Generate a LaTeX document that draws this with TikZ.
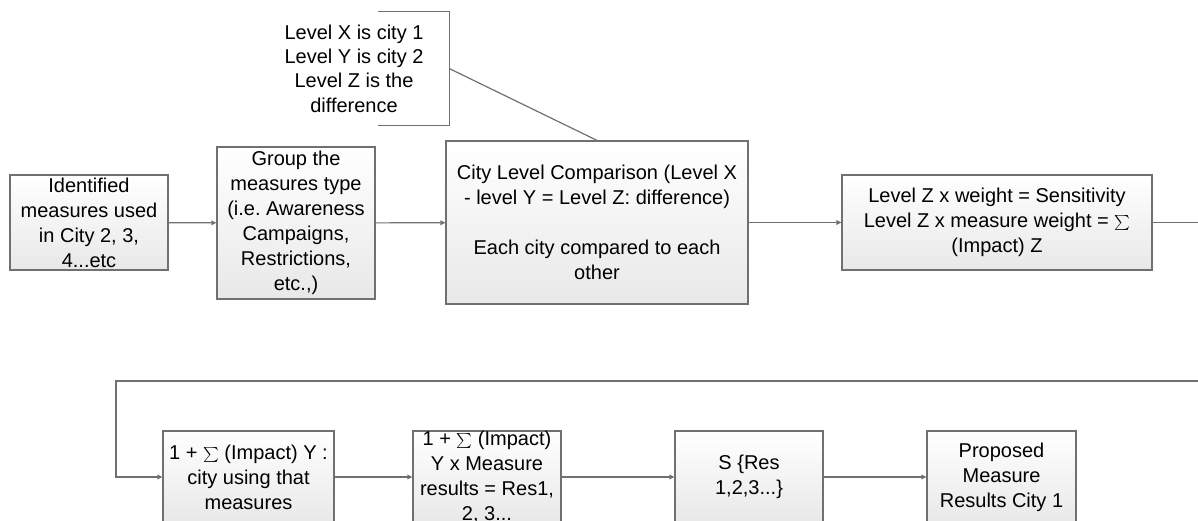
\documentclass[tikz,border=0pt]{standalone}
\usepackage{amsmath}
\usepackage{graphicx}
\usepackage{fontspec}
\setmainfont{Liberation Sans}
\usetikzlibrary{arrows.meta,calc}
\frenchspacing
\definecolor{edgegray}{RGB}{112,112,112}
\definecolor{boxbottom}{RGB}{232,232,232}
\newcommand{\sumsign}{\raisebox{0.5pt}{\scalebox{0.72}{$\textstyle\sum$}}}
\tikzset{
  boxtext/.style={align=center, inner sep=0pt, font=\fontsize{20}{25}\selectfont},
  flowbox/.style={boxtext, draw=edgegray, line width=1.2pt, top color=white, bottom color=boxbottom},
  link/.style={draw=edgegray, line width=1.2pt, -{Triangle[length=5pt,width=4.5pt]}},
  plain/.style={draw=edgegray, line width=1.2pt},
}
\begin{document}
\begin{tikzpicture}[x=1pt,y=-1pt]
\useasboundingbox (0,0) rectangle (1198,520);
\clip (0,0) rectangle (1198,520);

% top row
\node[flowbox, minimum width=158pt, minimum height=95pt] (b1) at (89,222.5)
  {Identified\\measures used\\in City 2, 3,\\4...etc};
\node[flowbox, minimum width=158pt, minimum height=152pt] (b2) at (296,223)
  {Group the\\measures type\\(i.e. Awareness\\Campaigns,\\Restrictions,\\etc.,)};
\node[flowbox, minimum width=302pt, minimum height=163pt] (b3) at (597,222.5)
  {City Level Comparison (Level X\\- level Y = Level Z: difference)\\[25pt]Each city compared to each\\other};
\node[flowbox, minimum width=310pt, minimum height=95pt] (b4) at (997,222.5)
  {Level Z x weight = Sensitivity\\Level Z x measure weight = \sumsign\\(Impact) Z};

% bracket callout
\node[boxtext, font=\fontsize{20}{24.3}\selectfont, minimum width=190pt, minimum height=113pt] (note) at (354,68.5)
  {Level X is city 1\\Level Y is city 2\\Level Z is the\\difference};
\draw[plain] ($(note.north east)+(-71,0)$) -- (note.north east) -- (note.south east) -- ($(note.south east)+(-71,0)$);
\draw[plain] (note.east) -- (b3.north);

% bottom row
\node[flowbox, minimum width=171pt, minimum height=92pt] (b5) at (248.5,477)
  {1 + \sumsign{} (Impact) Y :\\city using that\\measures};
\node[flowbox, minimum width=148pt, minimum height=92pt] (b6) at (487,477)
  {1 + \sumsign{} (Impact)\\Y x Measure\\results = Res1,\\2, 3...};
\node[flowbox, minimum width=148pt, minimum height=92pt] (b7) at (749,477)
  {S \{Res\\1,2,3...\}};
\node[flowbox, minimum width=149pt, minimum height=92pt] (b8) at (1001.5,477)
  {Proposed\\Measure\\Results City 1};

% connectors
\draw[link] (b1) -- (b2);
\draw[link] (b2) -- (b3);
\draw[link] (b3) -- (b4);
\coordinate (turnA) at (1215,222.5);
\coordinate (turnB) at (1215,381);
\coordinate (turnC) at (116,381);
\draw[link] (b4.east) -- (turnA) -- (turnB) -- (turnC) |- (b5.west);
\draw[link] (b5) -- (b6);
\draw[link] (b6) -- (b7);
\draw[link] (b7) -- (b8);
\end{tikzpicture}
\end{document}
